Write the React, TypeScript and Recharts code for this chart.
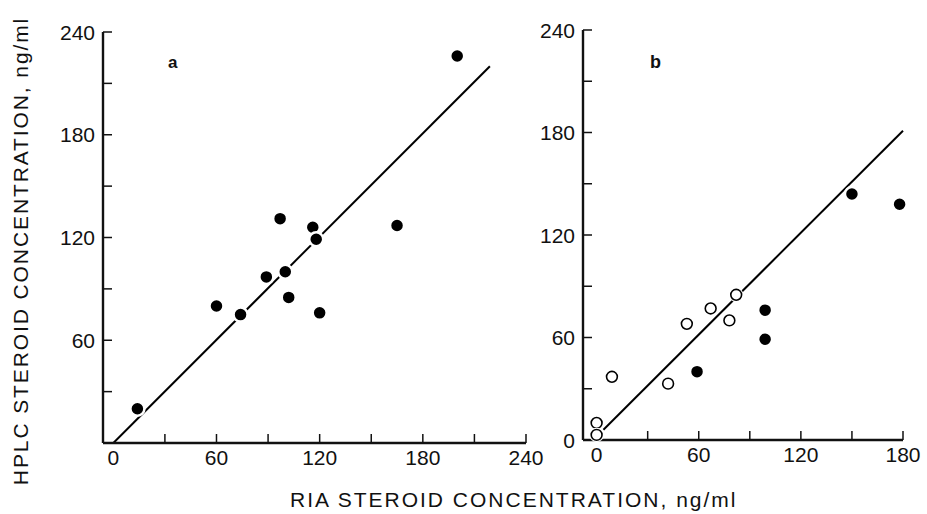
import { ScatterChart, Scatter, XAxis, YAxis, ReferenceLine } from 'recharts';

// panel a: every sample drawn as a filled dot
const panelAPoints = [
  { x: 14, y: 20 },
  { x: 60, y: 80 },
  { x: 74, y: 75 },
  { x: 89, y: 97 },
  { x: 97, y: 131 },
  { x: 100, y: 100 },
  { x: 102, y: 85 },
  { x: 116, y: 126 },
  { x: 118, y: 119 },
  { x: 120, y: 76 },
  { x: 165, y: 127 },
  { x: 200, y: 226 },
];
const panelAFit = [{ x: 0, y: 0 }, { x: 219, y: 220 }];

// panel b: open and filled symbols
const panelBOpen = [
  { x: 0, y: 10 },
  { x: 0, y: 3 },
  { x: 9, y: 37 },
  { x: 42, y: 33 },
  { x: 53, y: 68 },
  { x: 67, y: 77 },
  { x: 78, y: 70 },
  { x: 82, y: 85 },
];
const panelBFilled = [
  { x: 59, y: 40 },
  { x: 99, y: 76 },
  { x: 99, y: 59 },
  { x: 150, y: 144 },
  { x: 178, y: 138 },
];
const panelBFit = [{ x: 4, y: 6 }, { x: 180, y: 181 }];

const xTicksA = [0, 30, 60, 90, 120, 150, 180, 210, 240];
const xTicksB = [0, 30, 60, 90, 120, 150, 180];
const yTicks = [0, 30, 60, 90, 120, 150, 180, 210, 240];
const labelStep = 60;

const FONT = '"Liberation Sans", Arial, Helvetica, sans-serif';
const INK = '#111';

const makeYTick = (showZero: boolean) => (props: any) => {
  const { x, y, payload } = props;
  const v = payload.value;
  const axisX = x + 8;
  const showLabel = v % labelStep === 0 && (showZero || v !== 0);
  return (
    <g>
      {v !== 0 && <line x1={axisX} x2={axisX + 9} y1={y} y2={y} stroke={INK} strokeWidth={1.5} />}
      {showLabel && (
        <text x={x} y={y} dy={7.5} textAnchor="end" fontSize={21} fill={INK} fontFamily={FONT}>
          {v}
        </text>
      )}
    </g>
  );
};

const XTick = (props: any) => {
  const { x, y, payload } = props;
  const v = payload.value;
  const axisY = y - 7;
  return (
    <g>
      {v !== 0 && <line x1={x} x2={x} y1={axisY} y2={axisY - 9} stroke={INK} strokeWidth={1.5} />}
      {v % labelStep === 0 && (
        <text x={x} y={y} dy={15} textAnchor="middle" fontSize={21} fill={INK} fontFamily={FONT}>
          {v}
        </text>
      )}
    </g>
  );
};

const FilledDot = (props: any) => (
  <circle cx={props.cx} cy={props.cy} r={7} fill="#000" stroke="#fff" strokeWidth={2.5} />
);

const OpenDot = (props: any) => (
  <g>
    <circle cx={props.cx} cy={props.cy} r={7.2} fill="#fff" />
    <circle cx={props.cx} cy={props.cy} r={5.4} fill="#fff" stroke="#000" strokeWidth={1.6} />
  </g>
);

const axisLine = { stroke: INK, strokeWidth: 2.4 };

export default function App() {
  return (
    <div style={{ position: 'absolute', left: 0, top: 0, width: 927, height: 514, background: '#fff' }}>
      <div style={{ position: 'absolute', left: 0, top: 0 }}>
        <ScatterChart width={560} height={514} margin={{ top: 32, right: 34, bottom: 31, left: 43 }}>
          <XAxis
            type="number"
            dataKey="x"
            domain={[-6, 240]}
            ticks={xTicksA}
            interval={0}
            height={40}
            tickSize={0}
            tickMargin={7}
            tickLine={false}
            axisLine={axisLine}
            tick={XTick}
          />
          <YAxis
            type="number"
            dataKey="y"
            domain={[0, 240]}
            ticks={yTicks}
            interval={0}
            width={60}
            tickSize={0}
            tickMargin={8}
            tickLine={false}
            axisLine={axisLine}
            tick={makeYTick(false)}
          />
          <ReferenceLine segment={panelAFit} stroke="#000" strokeWidth={2} />
          <Scatter data={panelAPoints} shape={FilledDot} isAnimationActive={false} />
        </ScatterChart>
      </div>
      <div style={{ position: 'absolute', left: 520, top: 0 }}>
        <ScatterChart width={407} height={514} margin={{ top: 30, right: 24, bottom: 34, left: 23 }}>
          <XAxis
            type="number"
            dataKey="x"
            domain={[-8, 180]}
            ticks={xTicksB}
            interval={0}
            height={40}
            tickSize={0}
            tickMargin={7}
            tickLine={false}
            axisLine={axisLine}
            tick={XTick}
          />
          <YAxis
            type="number"
            dataKey="y"
            domain={[0, 240]}
            ticks={yTicks}
            interval={0}
            width={40}
            tickSize={0}
            tickMargin={8}
            tickLine={false}
            axisLine={axisLine}
            tick={makeYTick(true)}
          />
          <ReferenceLine segment={panelBFit} stroke="#000" strokeWidth={2} />
          <Scatter data={panelBOpen} shape={OpenDot} isAnimationActive={false} />
          <Scatter data={panelBFilled} shape={FilledDot} isAnimationActive={false} />
        </ScatterChart>
      </div>
      <svg
        width={927}
        height={514}
        style={{ position: 'absolute', left: 0, top: 0, pointerEvents: 'none' }}
        fontFamily={FONT}
        fill={INK}
      >
        <text x={168} y={68} fontSize={17} fontWeight="bold">a</text>
        <text x={650} y={68} fontSize={18} fontWeight="bold">b</text>
        <text x={290} y={507} fontSize={21} letterSpacing={2}>
          RIA STEROID CONCENTRATION, ng/ml
        </text>
        <text
          transform="translate(28, 251) rotate(-90)"
          textAnchor="middle"
          fontSize={21}
          letterSpacing={1.9}
        >
          HPLC STEROID CONCENTRATION, ng/ml
        </text>
      </svg>
    </div>
  );
}
